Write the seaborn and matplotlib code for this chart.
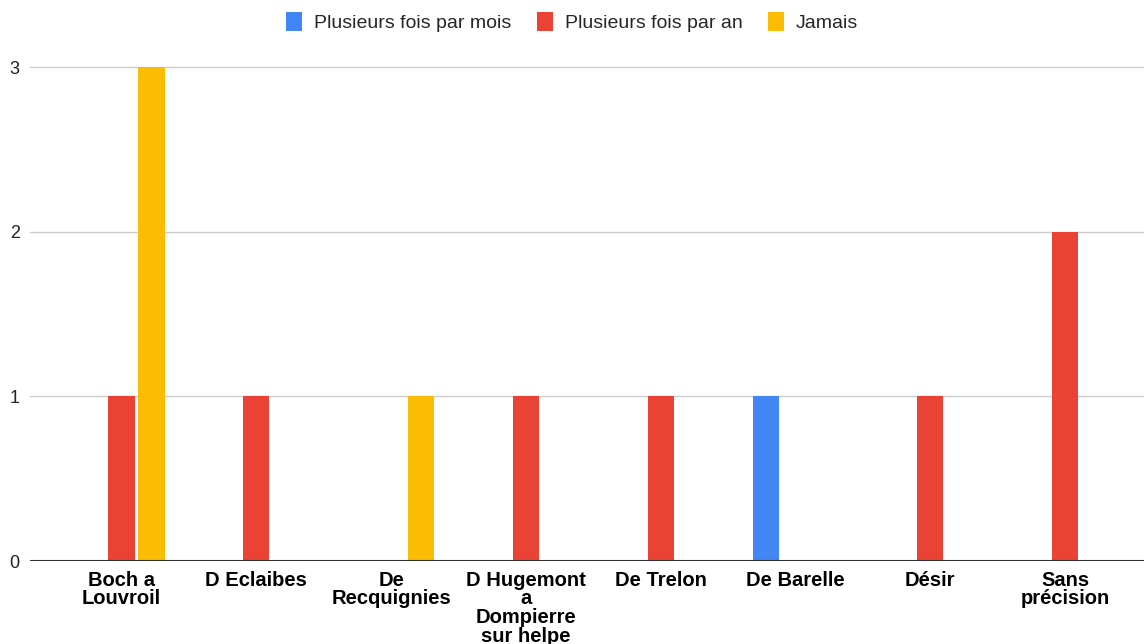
import matplotlib
matplotlib.use("Agg")
import matplotlib.pyplot as plt
import seaborn as sns
import pandas as pd
from matplotlib.patches import Patch

# Categories and counts per frequency answer
categories = ["Boch a Louvroil", "D Eclaibes", "De Recquignies",
              "D Hugemont a Dompierre sur helpe", "De Trelon", "De Barelle",
              "Désir", "Sans précision"]
tick_labels = ["Boch a\nLouvroil", "D Eclaibes", "De\nRecquignies",
               "D Hugemont\na\nDompierre\nsur helpe", "De Trelon", "De Barelle",
               "Désir", "Sans\nprécision"]
series_names = ["Plusieurs fois par mois", "Plusieurs fois par an", "Jamais"]
plusieurs_mois = [0, 0, 0, 0, 0, 1, 0, 0]
plusieurs_an = [1, 1, 0, 1, 1, 0, 1, 2]
jamais = [3, 0, 1, 0, 0, 0, 0, 0]
y_ticks = [0, 1, 2, 3]

colors = ["#4285F4", "#EA4335", "#FBBC04"]

rows = []
for name, vals in zip(series_names, [plusieurs_mois, plusieurs_an, jamais]):
    for cat, v in zip(categories, vals):
        rows.append({"site": cat, "freq": name, "count": v})
df = pd.DataFrame(rows)

sns.set_theme(style="white")
plt.rcParams["font.family"] = ["Liberation Sans", "DejaVu Sans"]

fig = plt.figure(figsize=(11.44, 6.44), dpi=100)
ax = fig.add_axes([30 / 1144, 1 - 561 / 644, 1 - 30 / 1144, (561 - 67) / 644])

sns.barplot(data=df, x="site", y="count", hue="freq", order=categories,
            hue_order=series_names, palette=colors, saturation=1,
            width=0.667, gap=0.13, linewidth=0, ax=ax, legend=False)

ax.set_ylim(0, 3)
ax.set_xlim(-0.679, 7.585)
ax.set_yticks(y_ticks)
ax.set_yticklabels([str(t) for t in y_ticks], fontsize=13, color="#222222")
ax.set_xticks(range(len(categories)))
ax.set_xticklabels(tick_labels, fontsize=14.5, fontweight="bold", color="black",
                   linespacing=0.98)
ax.tick_params(axis="x", length=0, pad=7)
ax.set_xlabel("")
ax.set_ylabel("")

for s in ax.spines.values():
    s.set_visible(False)
for t in y_ticks[1:]:
    ax.axhline(t, color="#cccccc", linewidth=1, zorder=0, clip_on=False)
ax.axhline(0, color="#333333", linewidth=1.5, zorder=3)
for lbl in ax.get_yticklabels():
    lbl.set_horizontalalignment("center")
ax.tick_params(axis="y", length=0, pad=11)

handles = [Patch(facecolor=c, edgecolor="none") for c in colors]
fig.legend(handles, series_names, loc="center", bbox_to_anchor=(0.5, 1 - 22 / 644),
           ncol=3, frameon=False, fontsize=14, handlelength=0.85, handleheight=1.15,
           handletextpad=0.6, columnspacing=1.3)

fig.savefig("out.png", dpi=100, facecolor="white")
